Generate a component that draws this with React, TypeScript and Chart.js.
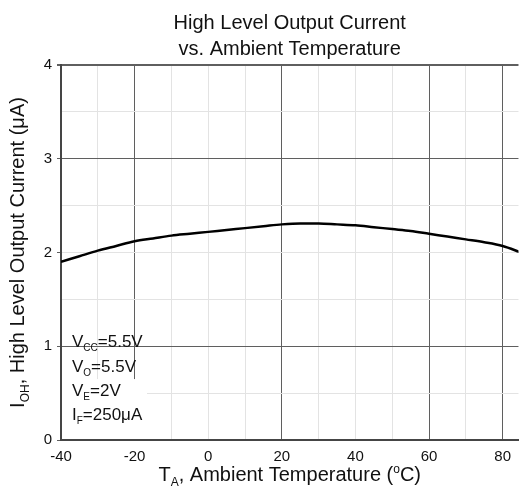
import React, { useEffect, useRef } from 'react';
import { Chart, registerables } from 'chart.js';

Chart.register(...registerables);

// ---- data ----
const temps = [-40, -35, -30, -25, -20, -15, -10, -5, 0, 5, 10, 15, 20, 25, 30, 35, 40, 45, 50, 55, 60, 65, 70, 75, 80, 85];
const ioh = [1.9, 1.96, 2.02, 2.07, 2.12, 2.15, 2.18, 2.2, 2.22, 2.24, 2.26, 2.28, 2.3, 2.31, 2.31, 2.3, 2.29, 2.27, 2.25, 2.23, 2.2, 2.17, 2.14, 2.11, 2.07, 2.0];
const xTickLabels = [-40, -20, 0, 20, 40, 60, 80];
const yTickLabels = [0, 1, 2, 3, 4];
const xDarkGrid = [-20, 20, 60, 80];
const yDarkGrid = [1, 3, 4];
const titleLines = ['High Level Output Current', 'vs. Ambient Temperature'];

type Seg = { t: string; sub?: boolean; sup?: boolean };
const yTitle: Seg[] = [{ t: 'I' }, { t: 'OH', sub: true }, { t: ', High Level Output Current (μA)' }];
const xTitle: Seg[] = [{ t: 'T' }, { t: 'A', sub: true }, { t: ', Ambient Temperature (' }, { t: 'o', sup: true }, { t: 'C)' }];
const conditions: Seg[][] = [
  [{ t: 'V' }, { t: 'CC', sub: true }, { t: '=5.5V' }],
  [{ t: 'V' }, { t: 'O', sub: true }, { t: '=5.5V' }],
  [{ t: 'V' }, { t: 'E', sub: true }, { t: '=2V' }],
  [{ t: 'I' }, { t: 'F', sub: true }, { t: '=250μA' }],
];

const FONT = '"Liberation Sans", Arial, Helvetica, sans-serif';
const DARK = '#5f5f5f';
const LIGHT = '#e3e3e3';
const AXIS = '#454545';

function drawRich(ctx: CanvasRenderingContext2D, segs: Seg[], x: number, y: number, size: number, align: 'left' | 'center') {
  const small = Math.round(size * 0.6);
  const fontFor = (s: Seg) => `${s.sub || s.sup ? small : size}px ${FONT}`;
  const widths = segs.map((s) => {
    ctx.font = fontFor(s);
    return ctx.measureText(s.t).width;
  });
  const total = widths.reduce((a, b) => a + b, 0);
  let cx = align === 'center' ? x - total / 2 : x;
  ctx.textAlign = 'left';
  ctx.textBaseline = 'alphabetic';
  segs.forEach((s, i) => {
    ctx.font = fontFor(s);
    const dy = s.sub ? size * 0.25 : s.sup ? -size * 0.42 : 0;
    ctx.fillText(s.t, cx, y + dy);
    cx += widths[i];
  });
}

const textPlugin = {
  id: 'customText',
  afterDraw(chart: any) {
    const ctx: CanvasRenderingContext2D = chart.ctx;
    const area = chart.chartArea;
    const midX = (area.left + area.right) / 2;
    ctx.save();
    ctx.fillStyle = '#111';
    // title
    drawRich(ctx, [{ t: titleLines[0] }], midX, 29, 20, 'center');
    drawRich(ctx, [{ t: titleLines[1] }], midX, 55, 20, 'center');
    // x title
    drawRich(ctx, xTitle, midX, 481, 20, 'center');
    // y title
    ctx.save();
    ctx.translate(24, (area.top + area.bottom) / 2);
    ctx.rotate(-Math.PI / 2);
    drawRich(ctx, yTitle, 0, 0, 20, 'center');
    ctx.restore();
    // conditions box
    const bx = area.left + 1;
    const by = chart.scales.y.getPixelForValue(0.65);
    ctx.fillStyle = '#ffffff';
    ctx.fillRect(bx, by, 147 - bx, area.bottom - 1 - by);
    ctx.fillStyle = '#111';
    const baselines = [347, 372, 396, 420];
    conditions.forEach((c, i) => drawRich(ctx, c, 72, baselines[i], 17, 'left'));
    ctx.restore();
  },
};

export default function App() {
  const ref = useRef<HTMLCanvasElement>(null);
  useEffect(() => {
    document.body.style.margin = '0';
    if (!ref.current) return;
    const chart = new Chart(ref.current, {
      type: 'line',
      data: {
        datasets: [
          {
            data: temps.map((t, i) => ({ x: t, y: ioh[i] })),
            borderColor: '#000',
            borderWidth: 2.5,
            pointRadius: 0,
            cubicInterpolationMode: 'monotone',
            fill: false,
          },
        ],
      },
      options: {
        animation: false,
        responsive: false,
        layout: { padding: { top: 65, left: 0, right: 0, bottom: 0 } },
        plugins: { legend: { display: false }, tooltip: { enabled: false }, title: { display: false } },
        scales: {
          x: {
            type: 'linear',
            min: -40,
            max: 84.3,
            afterFit: (s: any) => {
              s.height = 48;
            },
            border: { display: true, color: AXIS, width: 2 },
            grid: {
              drawTicks: false,
              color: (c: any) => (xDarkGrid.includes(Math.round(c.tick.value)) ? DARK : LIGHT),
              lineWidth: 1,
            },
            ticks: {
              stepSize: 10,
              includeBounds: false,
              autoSkip: false,
              maxRotation: 0,
              padding: 8,
              color: '#111',
              font: { family: FONT, size: 15 },
              callback: (v: any) => (xTickLabels.includes(Math.round(Number(v))) && Math.abs(v - Math.round(v)) < 1e-6 ? String(Math.round(v)) : ''),
            },
          },
          y: {
            type: 'linear',
            min: 0,
            max: 4,
            afterFit: (s: any) => {
              s.width = 61;
            },
            border: { display: true, color: AXIS, width: 2 },
            grid: {
              drawTicks: true,
              tickLength: 4,
              color: (c: any) => (yDarkGrid.includes(c.tick.value) ? DARK : LIGHT),
              tickColor: (c: any) => (Number.isInteger(c.tick.value) ? DARK : 'rgba(0,0,0,0)'),
              lineWidth: (c: any) => (c.tick.value === 4 ? 2 : 1),
            },
            ticks: {
              stepSize: 0.5,
              autoSkip: false,
              padding: 5,
              color: '#111',
              font: { family: FONT, size: 15 },
              callback: (v: any) => (yTickLabels.includes(Number(v)) ? String(v) : ''),
            },
          },
        },
      } as any,
      plugins: [textPlugin],
    });
    return () => chart.destroy();
  }, []);
  return (
    <div style={{ position: 'absolute', left: 0, top: 0, width: 519, height: 488 }}>
      <canvas ref={ref} width={519} height={488} style={{ display: 'block' }} />
    </div>
  );
}
